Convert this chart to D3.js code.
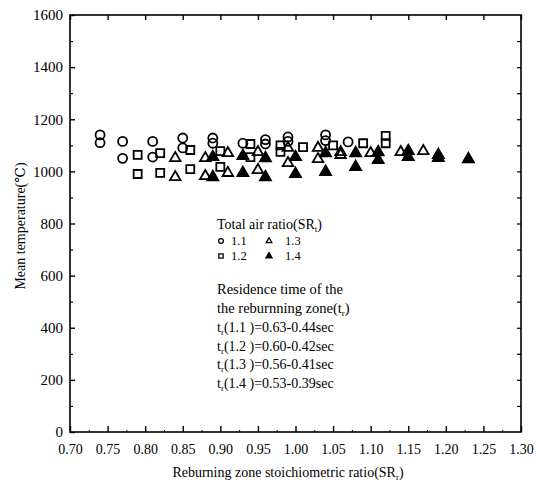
<!DOCTYPE html>
<html>
<head>
<meta charset="utf-8">
<script src="https://cdn.jsdelivr.net/npm/d3@7"></script>
<style>
  html, body { margin: 0; padding: 0; background: #fff; }
  svg text { font-family: "Liberation Serif", "DejaVu Serif", serif; fill: #000; }
</style>
</head>
<body>
<svg id="chart" width="536" height="486"></svg>
<script>
// Reburning zone stoichiometric ratio (x) and mean temperature in degC (y), per total air ratio
const sr11_x = [0.74, 0.74, 0.77, 0.77, 0.81, 0.81, 0.85, 0.85, 0.89, 0.89, 0.93, 0.96, 0.96, 0.99, 0.99, 1.04, 1.04, 1.07];
const sr11_y = [1140, 1110, 1115, 1050, 1115, 1055, 1128, 1090, 1128, 1108, 1108, 1122, 1105, 1132, 1115, 1140, 1118, 1113];

const sr12_x = [0.79, 0.79, 0.82, 0.82, 0.86, 0.86, 0.90, 0.90, 0.94, 0.94, 0.98, 0.98, 1.01, 1.05, 1.09, 1.12, 1.12];
const sr12_y = [1063, 990, 1070, 994, 1082, 1009, 1078, 1017, 1105, 1055, 1100, 1075, 1093, 1100, 1108, 1136, 1108];

const sr13_x = [0.84, 0.84, 0.88, 0.88, 0.91, 0.91, 0.95, 0.95, 0.99, 0.99, 1.03, 1.03, 1.06, 1.06, 1.10, 1.14, 1.17];
const sr13_y = [1051, 978, 1051, 982, 1070, 994, 1074, 1005, 1090, 1032, 1090, 1047, 1074, 1063, 1070, 1074, 1078];

const sr14_x = [0.89, 0.89, 0.93, 0.93, 0.96, 0.96, 1.00, 1.00, 1.04, 1.04, 1.08, 1.08, 1.11, 1.11, 1.15, 1.15, 1.19, 1.19, 1.23];
const sr14_y = [1055, 978, 1059, 994, 1051, 978, 1055, 990, 1070, 998, 1070, 1017, 1074, 1044, 1078, 1055, 1063, 1052, 1047];

const seriesLabels = ["1.1", "1.2", "1.3", "1.4"];
const xTicks = [0.70, 0.75, 0.80, 0.85, 0.90, 0.95, 1.00, 1.05, 1.10, 1.15, 1.20, 1.25, 1.30];
const yTicks = [0, 200, 400, 600, 800, 1000, 1200, 1400, 1600];
const residenceLines = [
  ["1.1", "0.63-0.44sec"],
  ["1.2", "0.60-0.42sec"],
  ["1.3", "0.56-0.41sec"],
  ["1.4", "0.53-0.39sec"]
];

const svg = d3.select("#chart");
const plotL = 70, plotR = 521, plotT = 15, plotB = 432;

const x = d3.scaleLinear().domain([0.70, 1.30]).range([plotL, plotR]);
const y = d3.scaleLinear().domain([0, 1600]).range([plotB, plotT]);

// frame
svg.append("rect")
  .attr("x", plotL).attr("y", plotT)
  .attr("width", plotR - plotL).attr("height", plotB - plotT)
  .attr("fill", "none").attr("stroke", "#000").attr("stroke-width", 1.6);

const fmtX = d3.format(".2f");

// bottom axis: labelled major ticks pointing inward
const gx = svg.append("g").attr("transform", `translate(0,${plotB})`)
  .call(d3.axisBottom(x).tickValues(xTicks).tickSize(-6).tickPadding(12).tickFormat(fmtX));
gx.select(".domain").remove();
gx.selectAll("line").attr("stroke", "#000").attr("stroke-width", 1.4);
gx.selectAll("text").attr("font-size", 14).attr("font-family", "Liberation Serif");

// bottom minor ticks
const xMinor = d3.range(12).map(i => 0.725 + i * 0.05);
svg.append("g").attr("transform", `translate(0,${plotB})`)
  .call(d3.axisBottom(x).tickValues(xMinor).tickSize(-2).tickFormat(""))
  .call(g => g.select(".domain").remove())
  .selectAll("line").attr("stroke", "#000").attr("stroke-width", 1);

// top axis ticks
svg.append("g").attr("transform", `translate(0,${plotT})`)
  .call(d3.axisTop(x).tickValues(xTicks).tickSize(-5).tickFormat(""))
  .call(g => g.select(".domain").remove())
  .selectAll("line").attr("stroke", "#000").attr("stroke-width", 1.4);

// left axis
const gy = svg.append("g").attr("transform", `translate(${plotL},0)`)
  .call(d3.axisLeft(y).tickValues(yTicks).tickSize(-5).tickPadding(7).tickFormat(d3.format("d")));
gy.select(".domain").remove();
gy.selectAll("line").attr("stroke", "#000").attr("stroke-width", 1.4);
gy.selectAll("text").attr("font-size", 15).attr("font-family", "Liberation Serif");

const yMinor = d3.range(8).map(i => 100 + i * 200);
svg.append("g").attr("transform", `translate(${plotL},0)`)
  .call(d3.axisLeft(y).tickValues(yMinor).tickSize(-3).tickFormat(""))
  .call(g => g.select(".domain").remove())
  .selectAll("line").attr("stroke", "#000").attr("stroke-width", 1.2);

// right axis ticks
svg.append("g").attr("transform", `translate(${plotR},0)`)
  .call(d3.axisRight(y).tickValues(d3.range(100, 1600, 100)).tickSize(-4).tickFormat(""))
  .call(g => g.select(".domain").remove())
  .selectAll("line").attr("stroke", "#000").attr("stroke-width", 1.2);

// axis titles
const xTitle = svg.append("text")
  .attr("x", 288).attr("y", 477)
  .attr("text-anchor", "middle").attr("font-size", 14);
xTitle.append("tspan").text("Reburning zone stoichiometric ratio(SR");
xTitle.append("tspan").attr("font-size", 9).attr("dy", 3).text("r");
xTitle.append("tspan").attr("dy", -3).text(")");

svg.append("text")
  .attr("transform", `translate(25,226) rotate(-90)`)
  .attr("text-anchor", "middle").attr("font-size", 14)
  .text("Mean temperature(℃)");

// markers
const series = [
  { xs: sr11_x, ys: sr11_y, type: d3.symbolCircle, size: 64, filled: false },
  { xs: sr12_x, ys: sr12_y, type: d3.symbolSquare, size: 64, filled: false },
  { xs: sr13_x, ys: sr13_y, type: d3.symbolTriangle, size: 48, filled: false },
  { xs: sr14_x, ys: sr14_y, type: d3.symbolTriangle, size: 52, filled: true }
];

series.forEach(s => {
  const pts = s.xs.map((v, i) => [v, s.ys[i]]);
  svg.append("g").selectAll("path").data(pts).join("path")
    .attr("transform", d => `translate(${x(d[0])},${y(d[1])})`)
    .attr("d", d3.symbol().type(s.type).size(s.size))
    .attr("fill", s.filled ? "#000" : "none")
    .attr("stroke", "#000").attr("stroke-width", 1.8);
});

// legend
const lg = svg.append("g");
const lt = lg.append("text").attr("x", 217).attr("y", 229).attr("font-size", 14);
lt.append("tspan").text("Total air ratio(SR");
lt.append("tspan").attr("font-size", 9).attr("dy", 3).text("t");
lt.append("tspan").attr("dy", -3).text(")");

const legendPos = [[221, 241], [221, 256], [269, 241], [269, 256]];
const legendTextX = [231, 231, 285, 285];
const legendSym = [
  { type: d3.symbolCircle, size: 18, fill: false },
  { type: d3.symbolSquare, size: 18, fill: false },
  { type: d3.symbolTriangle, size: 14, fill: false },
  { type: d3.symbolTriangle, size: 16, fill: true }
];
seriesLabels.forEach((lab, i) => {
  const [px, py] = legendPos[i];
  lg.append("path")
    .attr("transform", `translate(${px},${py})`)
    .attr("d", d3.symbol().type(legendSym[i].type).size(legendSym[i].size))
    .attr("fill", legendSym[i].fill ? "#000" : "none")
    .attr("stroke", "#000").attr("stroke-width", 1.3);
  lg.append("text").attr("x", legendTextX[i]).attr("y", py + 4)
    .attr("font-size", 12.5).text(lab);
});

lg.append("text").attr("x", 217).attr("y", 294).attr("font-size", 14.5).text("Residence time of the");
const rz = lg.append("text").attr("x", 217).attr("y", 313).attr("font-size", 14.5);
rz.append("tspan").text("the reburnning zone(t");
rz.append("tspan").attr("font-size", 9).attr("dy", 3).text("r");
rz.append("tspan").attr("dy", -3).text(")");

residenceLines.forEach((r, i) => {
  const t = lg.append("text").attr("x", 217).attr("y", 332 + i * 18.6).attr("font-size", 14);
  t.append("tspan").text("t");
  t.append("tspan").attr("font-size", 9).attr("dy", 3).text("r");
  t.append("tspan").attr("dy", -3).text(`(${r[0]} )=${r[1]}`);
});
</script>
</body>
</html>
